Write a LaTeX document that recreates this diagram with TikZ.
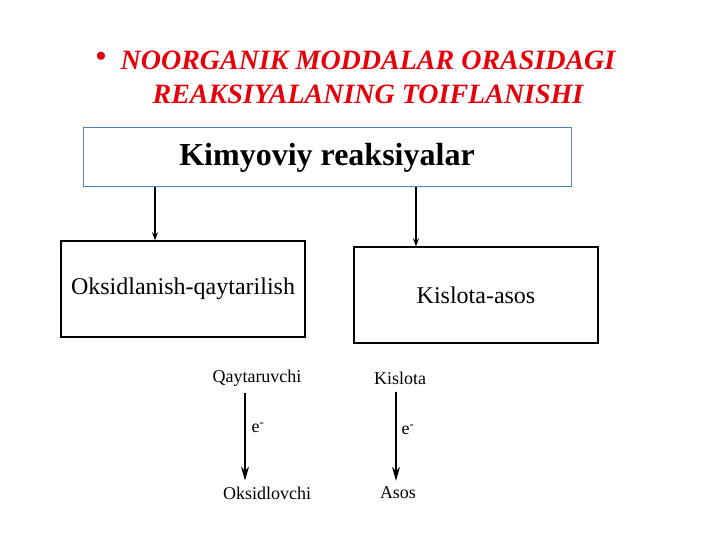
\documentclass[tikz,border=0pt]{standalone}
\usepackage{fontspec}
\setmainfont{Liberation Serif}
\usepackage{tikz}
\usetikzlibrary{arrows.meta}
\definecolor{titlered}{RGB}{230,0,10}
\definecolor{boxblue}{RGB}{79,129,189}

\begin{document}
\begin{tikzpicture}[x=1pt,y=-1pt,>={Stealth[length=8pt,width=6pt]},
    title/.style={text=titlered,font=\fontsize{28}{32}\selectfont\bfseries\itshape,inner sep=0pt},
    bigbox/.style={draw,line width=1.4pt,minimum width=244pt,minimum height=96pt,inner sep=0pt,font=\fontsize{24}{28}\selectfont},
    small/.style={inner sep=0pt,font=\fontsize{18}{21}\selectfont}]
            \useasboundingbox (0,0) rectangle (720,540);

            \node[title,font=\fontsize{34}{34}\selectfont] (bullet) at (101,60) {\textbullet};
            \node[title] (line1) at (368,60) {NOORGANIK MODDALAR ORASIDAGI};
            \node[title] (line2) at (368,94) {REAKSIYALANING TOIFLANISHI};

            \node[draw=boxblue,line width=1pt,minimum width=488pt,minimum height=59pt,inner sep=0pt,
                  font=\fontsize{32}{36}\selectfont\bfseries] (kimyoviy) at (327,157.5) {\raisebox{-4pt}{Kimyoviy reaksiyalar}};
            \node[bigbox] (oksid) at (183,289) {\raisebox{3pt}{Oksidlanish-qaytarilish}};
            \node[bigbox] (kislota) at (476,295) {\raisebox{-2pt}{Kislota-asos}};

            \coordinate (c1) at (155,187);
            \coordinate (c2) at (416,187);
            \draw[->,line width=1.4pt] (kimyoviy.south -| c1) -- (oksid.north -| c1);
            \draw[->,line width=1.4pt] (kimyoviy.south -| c2) -- (kislota.north -| c2);

            \node[small] (qaytaruvchi) at (257,378) {Qaytaruvchi};
            \node[small] (kis) at (400,378) {Kislota};
            \node[small] (oksidlovchi) at (267,493) {Oksidlovchi};
            \node[small] (asos) at (398,493) {Asos};

            \coordinate (d1) at (245,0);
            \coordinate (d2) at (396,0);
            \draw[-{Stealth[length=14pt,width=8pt]},line width=1.4pt] ([yshift=-7pt]qaytaruvchi.south -| d1) -- ([yshift=6pt]oksidlovchi.north -| d1);
            \draw[-{Stealth[length=14pt,width=8pt]},line width=1.4pt] ([yshift=-7pt]kis.south -| d2) -- ([yshift=6pt]asos.north -| d2);

            \node[small] (e1) at (258,428) {e\textsuperscript{-}};
            \node[small] (e2) at (408,430) {e\textsuperscript{-}};
        \end{tikzpicture}
\end{document}
